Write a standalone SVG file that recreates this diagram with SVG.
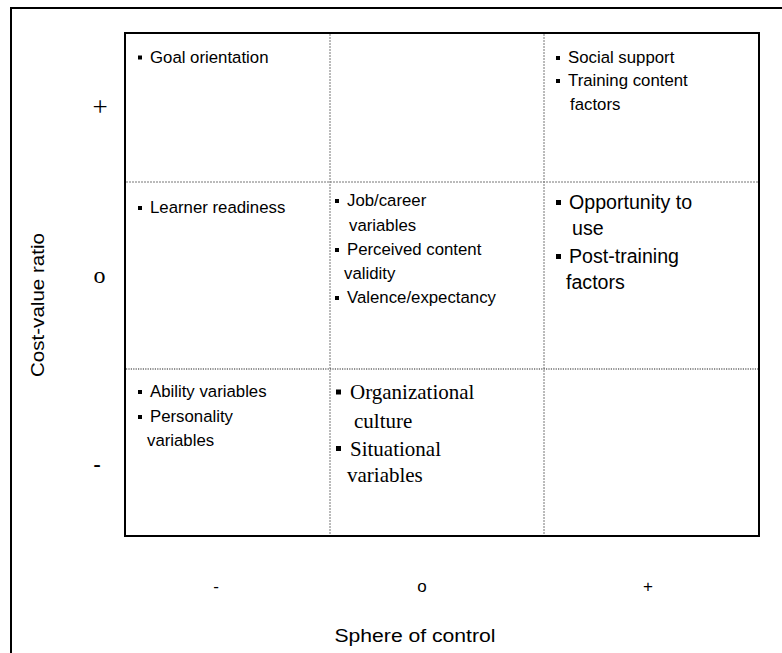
<svg xmlns="http://www.w3.org/2000/svg" width="782" height="653" viewBox="0 0 782 653">
<defs>
<style>
.s{font-family:"Liberation Sans",Arial,sans-serif;fill:#000}
.f17{font-size:16.8px}
.f20{font-size:19.6px}
.rm{font-family:"Liberation Serif","Times New Roman",serif;fill:#000}
.ax{font-family:"Liberation Sans",Arial,sans-serif;font-size:17px;text-anchor:middle}
.frame{fill:none;stroke:#000;stroke-width:2}
.dv{stroke:#777;stroke-width:1;stroke-dasharray:2 1;fill:none}
.dt{stroke:#222;stroke-width:1.2;stroke-dasharray:1.2 1.2;fill:none}
</style>
<rect id="b" width="4" height="4" fill="#000"/>
<rect id="bb" width="5" height="5" fill="#000"/>
</defs>
<rect width="782" height="653" fill="#fff"/>
<path class="frame" d="M11,653 V8 H782"/>
<g id="connectors">
<line class="dv" x1="330" y1="34" x2="330" y2="535"/>
<line class="dv" x1="544" y1="34" x2="544" y2="535"/>
<line class="dv" x1="126" y1="182" x2="758" y2="182"/>
<line class="dt" x1="126" y1="369" x2="758" y2="369"/>
</g>
<rect id="grid" class="frame" x="125" y="33" width="634" height="503"/>
<g id="cell-a1">
<use href="#b" x="138" y="55.5"/>
<text class="s f17" x="150" y="62.5">Goal orientation</text>
</g>
<g id="cell-c1">
<use href="#b" x="556" y="56"/>
<text class="s f17" x="568" y="63">Social support</text>
<use href="#b" x="556" y="79"/>
<text class="s f17" x="568" y="86">Training content</text>
<text class="s f17" x="570" y="110">factors</text>
</g>
<g id="cell-a2">
<use href="#b" x="138" y="206"/>
<text class="s f17" x="150" y="213">Learner readiness</text>
</g>
<g id="cell-b2">
<use href="#b" x="335" y="199"/>
<text class="s f17" x="347" y="206">Job/career</text>
<text class="s f17" x="349" y="230.5">variables</text>
<use href="#b" x="335" y="248"/>
<text class="s f17" x="347" y="255">Perceived content</text>
<text class="s f17" x="344" y="279">validity</text>
<use href="#b" x="335" y="296"/>
<text class="s f17" x="347" y="303">Valence/expectancy</text>
</g>
<g id="cell-c2">
<use href="#bb" x="556" y="200"/>
<text class="s f20" x="569" y="209">Opportunity to</text>
<text class="s f20" x="572" y="235">use</text>
<use href="#bb" x="556" y="254"/>
<text class="s f20" x="569" y="263">Post-training</text>
<text class="s f20" x="566" y="289">factors</text>
</g>
<g id="cell-a3">
<use href="#b" x="138" y="390"/>
<text class="s f17" x="150" y="397">Ability variables</text>
<use href="#b" x="138" y="415"/>
<text class="s f17" x="150" y="422">Personality</text>
<text class="s f17" x="147" y="446">variables</text>
</g>
<g id="cell-b3">
<use href="#bb" x="336" y="389.5"/>
<text class="rm" font-size="21" x="350" y="399">Organizational</text>
<text class="rm" font-size="21" x="354" y="427.5">culture</text>
<use href="#bb" x="336" y="446"/>
<text class="rm" font-size="21" x="350" y="456">Situational</text>
<text class="rm" font-size="21" x="347" y="482">variables</text>
</g>
<g id="y-axis">
<text class="rm" font-size="27" text-anchor="middle" x="100" y="116">+</text>
<text class="rm" font-size="24" text-anchor="middle" x="99.5" y="283">o</text>
<text class="s" font-size="23" text-anchor="middle" x="97" y="472">-</text>
<text class="s" font-size="18" text-anchor="middle" textLength="144" lengthAdjust="spacingAndGlyphs" transform="translate(44,305) rotate(-90)">Cost-value ratio</text>
</g>
<g id="x-axis">
<text class="ax" x="216" y="592">-</text>
<text class="ax" x="422" y="592">o</text>
<text class="ax" x="648" y="592">+</text>
<text class="s" font-size="18" text-anchor="middle" textLength="161" lengthAdjust="spacingAndGlyphs" x="415" y="642">Sphere of control</text>
</g>
</svg>
